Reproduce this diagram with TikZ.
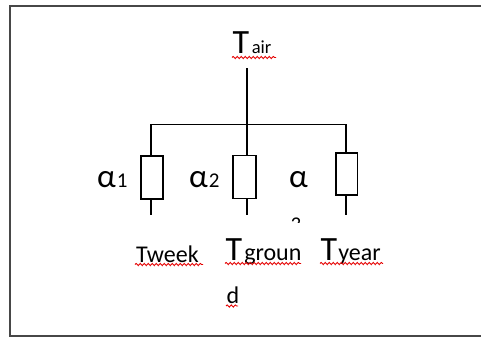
\documentclass[tikz,border=0pt]{standalone}
\usepackage{fontspec}
\setmainfont{Carlito}
\usetikzlibrary{decorations.pathmorphing}
\newcommand{\fsBigT}{\fontsize{34}{34}\selectfont}
\newcommand{\fsSub}{\fontsize{24}{24}\selectfont}
\newcommand{\fsAir}{\fontsize{18.5}{18.5}\selectfont}
\newcommand{\fsAlpha}{\fontsize{33}{33}\selectfont}
\newcommand{\fsIdx}{\fontsize{21}{21}\selectfont}
\tikzset{
  frame/.style={draw=black!72, line width=1.4pt},
  wire/.style={draw=black, line width=1.3pt},
  res/.style={draw=black, line width=1.3pt, rectangle, inner sep=0pt, fill=white},
  lbl/.style={inner sep=0pt, anchor=base west, text=black},
  spell/.style={draw=red!90!black, line width=0.9pt, decorate,
    decoration={snake, segment length=4pt, amplitude=1.1pt}},
}
\begin{document}
\begin{tikzpicture}[x=1pt,y=-1pt]
\useasboundingbox (0,0) rectangle (481,337);
% frame
\draw[frame] (481,6) -- (10,6) -- (10,336) -- (481,336);

% top label
\node[lbl] (tair) at (232.5,53) {\fsBigT T\hspace{2.5pt}\fsAir air};

% junction coordinates
\coordinate (jt) at (247,68);
\coordinate (jm) at (247,124.3);
\coordinate (jl) at (151,124.3);
\coordinate (jr) at (346,124.3);

% resistors
\node[res, minimum width=22pt, minimum height=43pt] (r1) at (152,177.5) {};
\node[res, minimum width=23pt, minimum height=42.6pt] (r2) at (244.5,177) {};
\node[res, minimum width=21.3pt, minimum height=42pt] (r3) at (346.6,174) {};

% lead ends
\coordinate (b1) at (151,215);
\coordinate (b2) at (247,215);
\coordinate (b3) at (346,215);

% wires
\draw[wire] (jt) -- (jm);
\draw[wire] (jl) -- (jr);
\draw[wire] (jl) -- (jl |- r1.north);
\draw[wire] (jm) -- (jm |- r2.north);
\draw[wire] (jr) -- (jr |- r3.north);
\draw[wire] (b1 |- r1.south) -- (b1);
\draw[wire] (b2 |- r2.south) -- (b2);
\draw[wire] (b3 |- r3.south) -- (b3);

% alpha labels
\node[lbl] (a1) at (97,187) {\fsAlpha α\hspace{1pt}\fsIdx 1};
\node[lbl] (a2) at (189,187) {\fsAlpha α\hspace{1pt}\fsIdx 2};
\node[lbl] (a3) at (289,187) {\fsAlpha α};
\begin{scope}
  \clip (285,214) rectangle (305,222.3);
  \node[lbl] (a3i) at (290.5,231) {\fsIdx 3};
\end{scope}

% bottom labels
\node[lbl] (tweek) at (136,262) {\fsSub Tweek};
\node[lbl] (tground) at (225.5,260.5) {\fsBigT T\hspace{2pt}\fsSub groun};
\node[lbl] (tgd) at (226.5,303.5) {\fsSub d};
\node[lbl] (tyear) at (320.5,260.5) {\fsBigT T\hspace{1pt}\fsSub year};

% spell-check underlines
\draw[spell] (232,57.5) -- (276,57.5);
\draw[spell] (135,264.5) -- (203,264.5);
\draw[spell] (225,263.5) -- (301,263.5);
\draw[spell] (320,263.5) -- (383,263.5);
\draw[spell] (226,306) -- (238,306);
\end{tikzpicture}
\end{document}
